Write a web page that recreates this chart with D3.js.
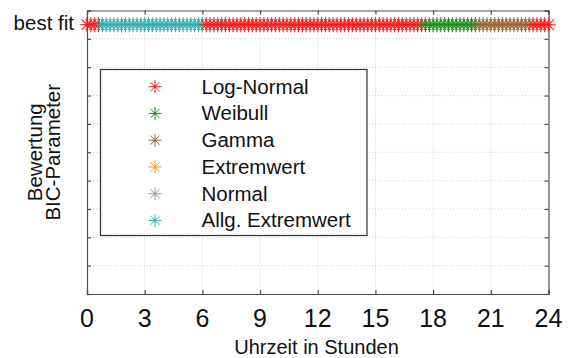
<!DOCTYPE html>
<html>
<head>
<meta charset="utf-8">
<script src="https://cdn.jsdelivr.net/npm/d3@7"></script>
<style>
  html, body { margin: 0; padding: 0; background: #fff; }
  svg { display: block; font-family: "Liberation Sans", Arial, Helvetica, sans-serif; }
</style>
</head>
<body>
<svg id="chart" width="569" height="358"></svg>
<script>
// ---------------- data ----------------
const distNames = ["Log-Normal", "Weibull", "Gamma", "Extremwert", "Normal", "Allg. Extremwert"];
const distCodes = ["L", "W", "G", "E", "N", "A"];
const distColors = ["#ff1a1a", "#1f8f1f", "#9a6434", "#ff9a1a", "#9a9a9a", "#33b0b0"];

const hours = [0,0.2,0.4,0.6,0.8,1,1.2,1.4,1.6,1.8,2,2.2,2.4,2.6,2.8,3,3.2,3.4,3.6,3.8,
  4,4.2,4.4,4.6,4.8,5,5.2,5.4,5.6,5.8,6,6.2,6.4,6.6,6.8,7,7.2,7.4,7.6,7.8,
  8,8.2,8.4,8.6,8.8,9,9.2,9.4,9.6,9.8,10,10.2,10.4,10.6,10.8,11,11.2,11.4,11.6,11.8,
  12,12.2,12.4,12.6,12.8,13,13.2,13.4,13.6,13.8,14,14.2,14.4,14.6,14.8,15,15.2,15.4,15.6,15.8,
  16,16.2,16.4,16.6,16.8,17,17.2,17.4,17.6,17.8,18,18.2,18.4,18.6,18.8,19,19.2,19.4,19.6,19.8,
  20,20.2,20.4,20.6,20.8,21,21.2,21.4,21.6,21.8,22,22.2,22.4,22.6,22.8,23,23.2,23.4,23.6,23.8,24];

// best-fitting distribution at each time step (one code per hour value)
const bestFit = "LLLL" +
  "AAAAAAAAAAAAAAAAAAAAAAAAAAA" +
  "LLLLLLLLLLLLLLLLLLLLLLLLLLLLLLLLLLLLLLLLLLLLLLLLLLLLLLLLL" +
  "WWWWWWWWWWWWWW" +
  "GGGGGGGGGGGGGG" +
  "LLLLL";

const bestFitLevel = 9.5;
const xTicks = [0, 3, 6, 9, 12, 15, 18, 21, 24];
const yTicks = [0, 1, 2, 3, 4, 5, 6, 7, 8, 9, 10];
const yTickLabel = "best fit";
const xLabel = "Uhrzeit in Stunden";
const yLabelLines = ["Bewertung", "BIC-Parameter"];

// ---------------- chart ----------------
const svg = d3.select("#chart");
const L = 87, R = 548.5, T = 10.5, B = 294;
const x = d3.scaleLinear().domain([0, 24]).range([L, R]);
const y = d3.scaleLinear().domain([0, 10]).range([B, T]);
const color = d3.scaleOrdinal().domain(distCodes).range(distColors);
const frameColor = "#4d4d4d";

// grid
const grid = svg.append("g");
grid.selectAll(".gx").data(xTicks.filter(d => d > 0 && d < 24)).enter().append("line")
  .attr("x1", d => x(d)).attr("x2", d => x(d)).attr("y1", T).attr("y2", B)
  .attr("stroke", "#c4c4c4").attr("stroke-width", 0.8).attr("stroke-dasharray", "1,2");
grid.selectAll(".gy").data(yTicks.filter(d => d > 0 && d < 10)).enter().append("line")
  .attr("y1", d => y(d)).attr("y2", d => y(d)).attr("x1", L).attr("x2", R)
  .attr("stroke", "#c4c4c4").attr("stroke-width", 0.8).attr("stroke-dasharray", "1,2");

// axes with mirrored ticks
const tickLen = 4;
const bottomAxis = d3.axisBottom(x).tickValues(xTicks).tickSize(-tickLen).tickFormat("");
const topAxis = d3.axisTop(x).tickValues(xTicks).tickSize(-tickLen).tickFormat("");
const leftAxis = d3.axisLeft(y).tickValues(yTicks).tickSize(-tickLen).tickFormat("");
const rightAxis = d3.axisRight(y).tickValues(yTicks).tickSize(-tickLen).tickFormat("");
function styleAxis(g) {
  g.selectAll("path").attr("stroke", frameColor).attr("stroke-width", 1.2);
  g.selectAll("line").attr("stroke", frameColor).attr("stroke-width", 1.2);
}
svg.append("g").attr("transform", `translate(0,${B})`).call(bottomAxis).call(styleAxis);
svg.append("g").attr("transform", `translate(0,${T})`).call(topAxis).call(styleAxis);
svg.append("g").attr("transform", `translate(${L},0)`).call(leftAxis).call(styleAxis);
svg.append("g").attr("transform", `translate(${R},0)`).call(rightAxis).call(styleAxis);

// x tick labels
svg.append("g").selectAll("text").data(xTicks).enter().append("text")
  .attr("x", d => x(d)).attr("y", 327)
  .attr("text-anchor", "middle").attr("font-size", 25).attr("fill", "#111")
  .text(d => d);

// x label
svg.append("text").attr("x", 316.5).attr("y", 354)
  .attr("text-anchor", "middle").attr("font-size", 20).attr("fill", "#111")
  .text(xLabel);

// y label (two lines)
yLabelLines.forEach((t, i) => {
  svg.append("text")
    .attr("transform", `translate(${42 + i * 18},${(T + B) / 2}) rotate(-90)`)
    .attr("text-anchor", "middle").attr("font-size", 20.5).attr("fill", "#111")
    .text(t);
});

// "best fit" tick label
svg.append("text").attr("x", 74).attr("y", y(bestFitLevel) + 5)
  .attr("text-anchor", "end").attr("font-size", 20.5).attr("fill", "#111")
  .text(yTickLabel);

// asterisk marker path
function star(r) {
  const d = r * 0.7071;
  return `M${-r},0L${r},0M0,${-r}L0,${r}M${-d},${-d}L${d},${d}M${-d},${d}L${d},${-d}`;
}

// data markers
const points = hours.map((h, i) => ({ h: h, c: bestFit[i] }));
svg.append("g").selectAll("path").data(points).enter().append("path")
  .attr("transform", d => `translate(${x(d.h)},${y(bestFitLevel)})`)
  .attr("d", star(7.5))
  .attr("fill", "none")
  .attr("stroke", d => color(d.c))
  .attr("stroke-width", 1.1);

// legend
const lg = svg.append("g");
lg.append("rect").attr("x", 100.5).attr("y", 69.5).attr("width", 266.5).attr("height", 166)
  .attr("fill", "#fff").attr("stroke", "#333").attr("stroke-width", 1.2);
distNames.forEach((name, i) => {
  const cy = 86.7 + i * 26.75;
  lg.append("path").attr("transform", `translate(155,${cy})`).attr("d", star(6.5))
    .attr("fill", "none").attr("stroke", distColors[i]).attr("stroke-width", 1);
  lg.append("circle").attr("cx", 155).attr("cy", cy).attr("r", 1.2).attr("fill", distColors[i]);
  lg.append("text").attr("x", 201.5).attr("y", cy + 7).attr("font-size", 20.5).attr("fill", "#111")
    .text(name);
});
</script>
</body>
</html>
